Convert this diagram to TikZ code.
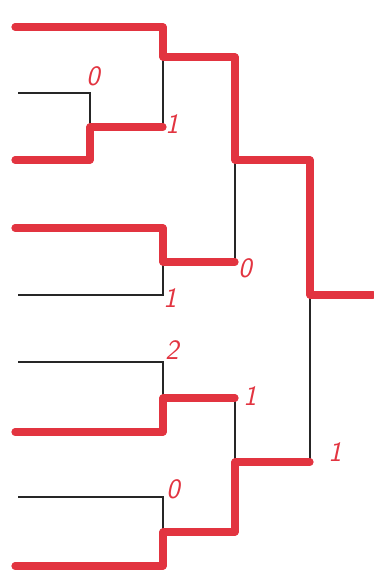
\documentclass[tikz,border=0pt]{standalone}
\usepackage{xcolor}
\usepackage{tikz}

\definecolor{marker}{RGB}{226,52,64}

\begin{document}
\begin{tikzpicture}[x=0.02cm, y=-0.02cm,
    wire/.style={draw=black!85, line width=0.9pt},
    win/.style={draw=marker, line width=4.1pt, line cap=round, line join=round},
    score/.style={text=marker, font=\fontsize{16}{16}\selectfont\sffamily\itshape, inner sep=0pt}]

    \useasboundingbox (0,0) rectangle (373,585);

    % players
    \coordinate (p1) at (15,27);
    \coordinate (p2) at (18,93);
    \coordinate (p3) at (15,160);
    \coordinate (p4) at (15,228);
    \coordinate (p5) at (18,295);
    \coordinate (p6) at (18,362);
    \coordinate (p7) at (15,432);
    \coordinate (p8) at (18,497);
    \coordinate (p9) at (15,566);

    % match outputs
    \coordinate (a)  at (90,127);
    \coordinate (b1) at (163,57);
    \coordinate (b2) at (163,262);
    \coordinate (b3) at (163,398);
    \coordinate (b4) at (163,532);
    \coordinate (c1) at (235,160);
    \coordinate (c2) at (235,462);
    \coordinate (d)  at (310,295);
    \coordinate (e)  at (373,295);

    % bracket
    \draw[wire] (p2) -| (a) (p3) -| (a);
    \draw[wire] (p1) -| (b1) (a) -| (b1);
    \draw[wire] (p4) -| (b2) (p5) -| (b2);
    \draw[wire] (p6) -| (b3) (p7) -| (b3);
    \draw[wire] (p8) -| (b4) (p9) -| (b4);
    \draw[wire] (b1) -| (c1) (b2) -| (c1);
    \draw[wire] (b3) -| (c2) (b4) -| (c2);
    \draw[wire] (c1) -| (d) (c2) -| (d);
    \draw[wire] (d) -- (e);

    % winners
    \draw[win] (p1) -| (b1) -| (c1) -| (d) -- (e);
    \draw[win] (p3) -| (a) -- (a -| b1);
    \draw[win] (p4) -| (b2) -- (b2 -| c1);
    \draw[win] (p7) -| (b3) -- (b3 -| c2);
    \draw[win] (p9) -| (b4) -| (c2) -- (c2 -| d);

    % scores
    \node[score] (s1) at (93,76) {0};
    \node[score] (s2) at (172,124) {1};
    \node[score] (s3) at (245,268) {0};
    \node[score] (s4) at (170,298) {1};
    \node[score] (s5) at (172,350) {2};
    \node[score] (s6) at (250,396) {1};
    \node[score] (s7) at (173,489) {0};
    \node[score] (s8) at (335,452) {1};
\end{tikzpicture}
\end{document}
